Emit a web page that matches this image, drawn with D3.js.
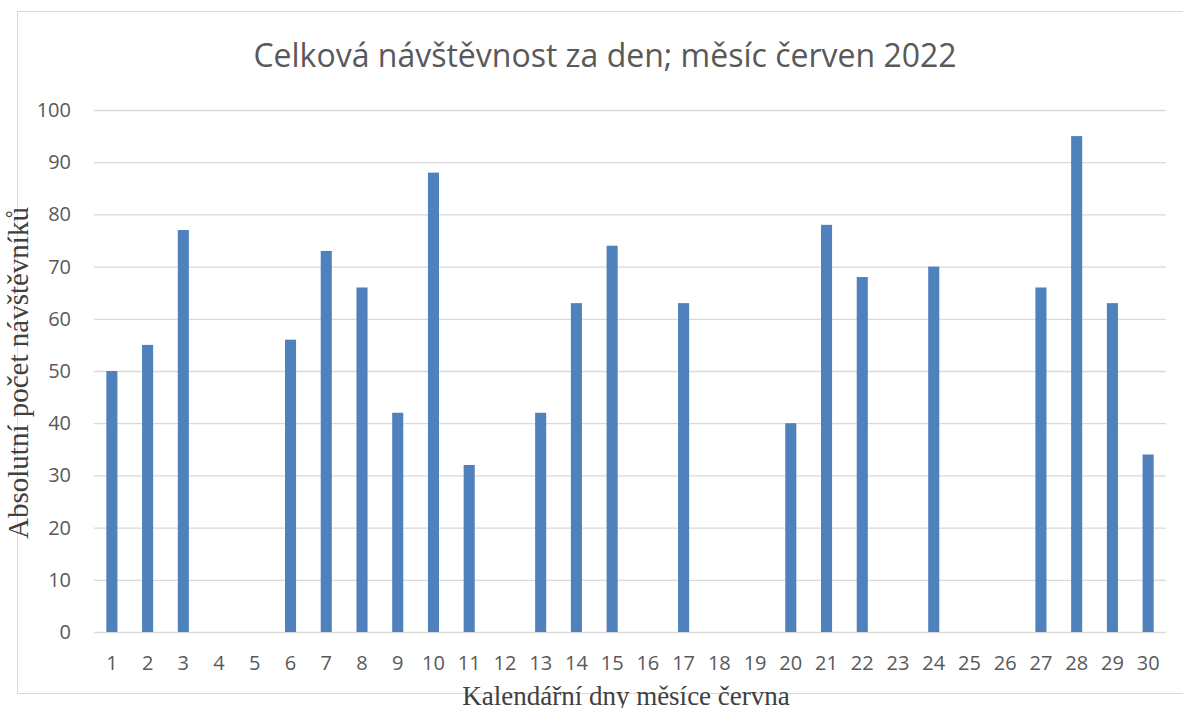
<!DOCTYPE html>
<html><head><meta charset="utf-8">
<script src="https://cdn.jsdelivr.net/npm/d3@7"></script>
<style>body{margin:0;background:#fff;}svg{display:block;}</style>
</head><body>
<svg id="c" width="1183" height="708"></svg>
<script>
const days = d3.range(1, 31).map(String);
const visitors = [50,55,77,0,0,56,73,66,42,88,32,0,42,63,74,0,63,0,0,40,78,68,0,70,0,0,66,95,63,34];
const yTicks = [0,10,20,30,40,50,60,70,80,90,100];
const title = "Celková návštěvnost za den; měsíc červen 2022";
const xTitle = "Kalendářní dny měsíce června";
const yTitle = "Absolutní počet návštěvníků";

const svg = d3.select("#c");
svg.append("rect").attr("x",17.5).attr("y",11.5).attr("width",1180).attr("height",682)
  .attr("fill","#fff").attr("stroke","#d9d9d9").attr("stroke-width",1);

const pLeft=94, pRight=1166, pTop=110, pBottom=632;
const x = d3.scaleBand().domain(days).range([pLeft,pRight]).paddingInner(0.69).paddingOuter(0.345);
const y = d3.scaleLinear().domain([0,100]).range([pBottom,pTop]);

const g = svg.append("g");
const ya = g.append("g").attr("transform",`translate(${pLeft},0)`)
  .call(d3.axisLeft(y).tickValues(yTicks).tickSize(-(pRight-pLeft)).tickPadding(23));
ya.select(".domain").remove();
ya.selectAll(".tick line").attr("stroke","#d9d9d9").attr("stroke-width",1.3);
ya.selectAll(".tick text").attr("fill","#595959").style("font-family","'Open Sans', sans-serif").style("font-size","20px");

g.selectAll("rect.bar").data(visitors).join("rect").attr("class","bar")
  .attr("x",(d,i)=>x(days[i])).attr("width",x.bandwidth())
  .attr("y",d=>y(d)).attr("height",d=>y(0)-y(d)).attr("fill","#4f81bd");

const xa = g.append("g").attr("transform",`translate(0,${pBottom})`)
  .call(d3.axisBottom(x).tickSize(0).tickPadding(24));
xa.select(".domain").remove();
xa.selectAll(".tick text").attr("fill","#595959").style("font-family","'Open Sans', sans-serif").style("font-size","20px");

svg.append("text").attr("x",605).attr("y",67).attr("text-anchor","middle")
  .attr("fill","#595959").style("font-family","'Open Sans', sans-serif").style("font-size","32px").text(title);
svg.append("text").attr("x",626).attr("y",705).attr("text-anchor","middle")
  .attr("fill","#404040").style("font-family","'Liberation Serif', serif").style("font-size","27px").text(xTitle);
svg.append("text").attr("transform","translate(28,373) rotate(-90)").attr("text-anchor","middle")
  .attr("fill","#404040").style("font-family","'Liberation Serif', serif").style("font-size","29px").text(yTitle);
</script>
</body></html>
